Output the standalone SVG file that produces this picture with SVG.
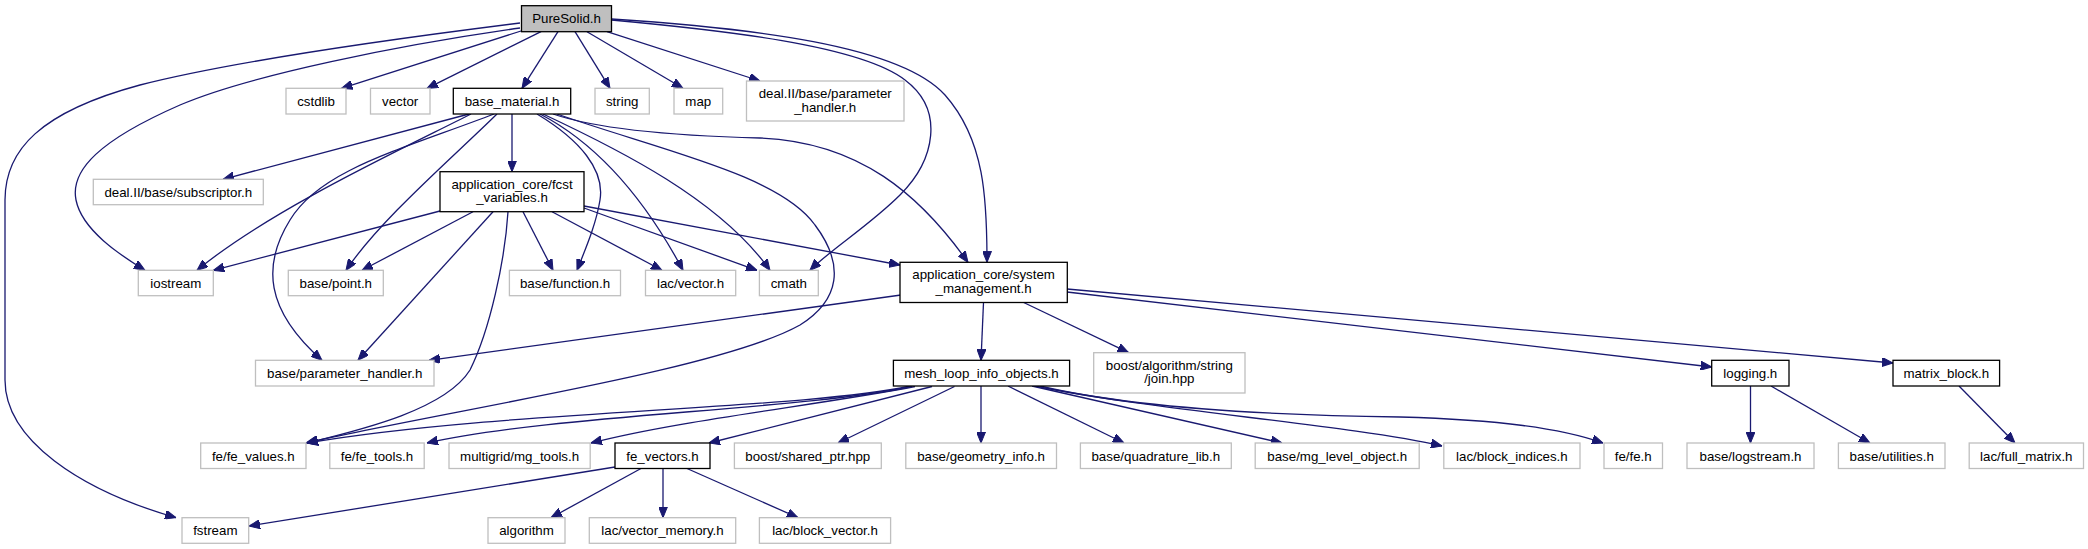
<svg xmlns="http://www.w3.org/2000/svg" width="2088" height="549" viewBox="0 0 2088 549">
<defs>
<style>
.n rect{fill:#ffffff;stroke:#bfbfbf;stroke-width:1.3}
.n.k rect{stroke:#000000}
.n.r rect{fill:#bfbfbf;stroke:#000000}
.n text{font-family:"Liberation Sans",Arial,sans-serif;font-size:13.3px;fill:#000000;text-anchor:middle}
#edges path{fill:none;stroke:#191970;stroke-width:1.3;marker-end:url(#ah)}
</style>
<marker id="ah" viewBox="0 0 11 9" refX="11" refY="4.5" markerWidth="11" markerHeight="9" markerUnits="userSpaceOnUse" orient="auto">
<path d="M0,0 L11,4.5 L0,9 z" fill="#191970" stroke="#191970" stroke-width="1"/>
</marker>
</defs>
<rect x="0" y="0" width="2088" height="549" fill="#ffffff"/>
<g id="edges">
<path d="M520,23 C400,38 230,62 140,85 C40,112 5,150 5,200 L5,380 C5,440 80,490 176,517.7"/>
<path d="M520,28 C400,45 250,75 180,105 C100,140 70,170 76,200 C82,230 120,255 145,270.3"/>
<path d="M521,31 L341.5,88.3"/>
<path d="M541,31.7 L427,88.3"/>
<path d="M558,31.7 L522,88.3"/>
<path d="M575,31.7 L610,88.3"/>
<path d="M587,31.7 L683,88.3"/>
<path d="M607,31.7 L760,81"/>
<path d="M611.5,20 C720,30 860,45 905,80 C945,110 935,160 900,195 C870,225 830,250 810,270.3"/>
<path d="M611.5,19 C750,28 900,45 945,95 C985,140 987,200 987,262.3"/>
<path d="M469,114 L223,179.3"/>
<path d="M471,114 C400,150 270,210 197,270.3"/>
<path d="M494,114 C400,150 320,170 290,220 C262,265 265,310 322,360.3"/>
<path d="M497,114 C450,160 380,220 346,270.3"/>
<path d="M512,114 L512,171.7"/>
<path d="M537,114 C580,140 605,170 600,200 C596,225 585,250 577,270.3"/>
<path d="M540,114 C590,140 640,190 683,270.3"/>
<path d="M543,114 C620,150 720,200 770,270.3"/>
<path d="M553,114 C600,130 680,136 760,138 C860,142 920,195 968,262.3"/>
<path d="M557,114 C660,150 780,175 815,225 C845,265 840,300 800,325 C720,370 450,410 306,443"/>
<path d="M440,211 L213.3,270.3"/>
<path d="M473,211.7 L362,270.3"/>
<path d="M493,211.7 L358,360.3"/>
<path d="M508,211.7 C505,260 490,330 470,370 C445,410 360,430 307,443"/>
<path d="M523,211.7 L553,270.3"/>
<path d="M552,211.7 L662,270.3"/>
<path d="M584,208 L757,270.3"/>
<path d="M584,206 L900,265"/>
<path d="M901,295 L429,360.3"/>
<path d="M983.5,302.5 L981,360.3"/>
<path d="M1023.7,302.5 L1128.6,352.7"/>
<path d="M1067,292 L1711.7,367"/>
<path d="M1067,289 L1893,363"/>
<path d="M910,386 C800,410 500,410 307,443"/>
<path d="M912,386.5 C800,410 550,415 427,443"/>
<path d="M915,386.5 C820,405 680,420 591,443"/>
<path d="M932,386.5 L709,443"/>
<path d="M954.5,386.5 L838,443"/>
<path d="M981,386 L981,443"/>
<path d="M1008,386 L1124,443"/>
<path d="M1032,386 L1282,443"/>
<path d="M1035,386 C1150,410 1350,425 1442,446"/>
<path d="M1040,386 C1120,405 1250,415 1400,417 C1500,420 1560,428 1603,443"/>
<path d="M615,467 L249,526"/>
<path d="M641,468.5 L551,517.7"/>
<path d="M663,468.5 L663,517.7"/>
<path d="M687,468.5 L798,517.7"/>
<path d="M1750.5,386 L1750.5,443"/>
<path d="M1771,386 L1870,443"/>
<path d="M1959,386 L2015,443"/>
</g>
<g id="n_puresolid" class="n r"><rect x="521.5" y="5.7" width="90" height="26"/><text x="566.5" y="23.4">PureSolid.h</text></g>
<g id="n_cstdlib" class="n"><rect x="286" y="88.3" width="60" height="25.7"/><text x="316" y="106">cstdlib</text></g>
<g id="n_vector" class="n"><rect x="370.5" y="88.3" width="59.5" height="25.7"/><text x="400.2" y="106">vector</text></g>
<g id="n_base_material" class="n k"><rect x="453.3" y="88.3" width="117.4" height="25.7"/><text x="512" y="106">base_material.h</text></g>
<g id="n_string" class="n"><rect x="595" y="88.3" width="54.3" height="25.7"/><text x="622.2" y="106">string</text></g>
<g id="n_map" class="n"><rect x="674" y="88.3" width="48.7" height="25.7"/><text x="698.3" y="106">map</text></g>
<g id="n_deal_param" class="n"><rect x="746.5" y="81" width="157.5" height="40"/><text x="825.2" y="97.5">deal.II/base/parameter</text><text x="825.2" y="111.5">_handler.h</text></g>
<g id="n_subscriptor" class="n"><rect x="93.3" y="179.3" width="170" height="25.4"/><text x="178.3" y="197">deal.II/base/subscriptor.h</text></g>
<g id="n_fcst" class="n k"><rect x="440" y="171.7" width="144" height="40"/><text x="512" y="188.5">application_core/fcst</text><text x="512" y="202">_variables.h</text></g>
<g id="n_iostream" class="n"><rect x="138.3" y="270.3" width="75" height="25.4"/><text x="175.8" y="288">iostream</text></g>
<g id="n_point" class="n"><rect x="288.3" y="270.3" width="95" height="25.4"/><text x="335.8" y="288">base/point.h</text></g>
<g id="n_function" class="n"><rect x="509.4" y="270.3" width="111.1" height="25.4"/><text x="565" y="288">base/function.h</text></g>
<g id="n_lacvector" class="n"><rect x="645.5" y="270.3" width="90.2" height="25.4"/><text x="690.6" y="288">lac/vector.h</text></g>
<g id="n_cmath" class="n"><rect x="759.4" y="270.3" width="58.9" height="25.4"/><text x="788.8" y="288">cmath</text></g>
<g id="n_sysmgmt" class="n k"><rect x="900" y="262.3" width="167.3" height="40.2"/><text x="983.6" y="279.3">application_core/system</text><text x="983.6" y="292.8">_management.h</text></g>
<g id="n_paramhandler" class="n"><rect x="255.5" y="360.3" width="178.5" height="25.7"/><text x="344.7" y="378">base/parameter_handler.h</text></g>
<g id="n_join" class="n"><rect x="1093.7" y="352.7" width="151.3" height="40.3"/><text x="1169.3" y="369.5">boost/algorithm/string</text><text x="1169.3" y="383">/join.hpp</text></g>
<g id="n_meshloop" class="n k"><rect x="893.4" y="360.3" width="176.2" height="25.7"/><text x="981.5" y="378">mesh_loop_info_objects.h</text></g>
<g id="n_logging" class="n k"><rect x="1711.7" y="360.3" width="77.3" height="25.7"/><text x="1750.3" y="378">logging.h</text></g>
<g id="n_matrixblock" class="n k"><rect x="1893" y="360.3" width="106.6" height="25.7"/><text x="1946.3" y="378">matrix_block.h</text></g>
<g id="n_fevalues" class="n"><rect x="200.7" y="443" width="105.3" height="25.5"/><text x="253.3" y="460.7">fe/fe_values.h</text></g>
<g id="n_fetools" class="n"><rect x="329.8" y="443" width="94.4" height="25.5"/><text x="377" y="460.7">fe/fe_tools.h</text></g>
<g id="n_mgtools" class="n"><rect x="449" y="443" width="141.2" height="25.5"/><text x="519.6" y="460.7">multigrid/mg_tools.h</text></g>
<g id="n_fevectors" class="n k"><rect x="615" y="443" width="95" height="25.5"/><text x="662.5" y="460.7">fe_vectors.h</text></g>
<g id="n_sharedptr" class="n"><rect x="734.4" y="443" width="146.9" height="25.5"/><text x="807.8" y="460.7">boost/shared_ptr.hpp</text></g>
<g id="n_geometry" class="n"><rect x="905.8" y="443" width="150.7" height="25.5"/><text x="981.1" y="460.7">base/geometry_info.h</text></g>
<g id="n_quadrature" class="n"><rect x="1080.4" y="443" width="150.9" height="25.5"/><text x="1155.8" y="460.7">base/quadrature_lib.h</text></g>
<g id="n_mglevel" class="n"><rect x="1255.2" y="443" width="164" height="25.5"/><text x="1337.2" y="460.7">base/mg_level_object.h</text></g>
<g id="n_blockindices" class="n"><rect x="1443.8" y="443" width="136.2" height="25.5"/><text x="1511.9" y="460.7">lac/block_indices.h</text></g>
<g id="n_fe" class="n"><rect x="1604" y="443" width="58.5" height="25.5"/><text x="1633.2" y="460.7">fe/fe.h</text></g>
<g id="n_logstream" class="n"><rect x="1687" y="443" width="127" height="25.5"/><text x="1750.5" y="460.7">base/logstream.h</text></g>
<g id="n_utilities" class="n"><rect x="1838.4" y="443" width="106.6" height="25.5"/><text x="1891.7" y="460.7">base/utilities.h</text></g>
<g id="n_fullmatrix" class="n"><rect x="1969.2" y="443" width="114.3" height="25.5"/><text x="2026.3" y="460.7">lac/full_matrix.h</text></g>
<g id="n_fstream" class="n"><rect x="182" y="517.7" width="66.7" height="25.6"/><text x="215.3" y="535.4">fstream</text></g>
<g id="n_algorithm" class="n"><rect x="488" y="517.7" width="77" height="25.6"/><text x="526.5" y="535.4">algorithm</text></g>
<g id="n_vectormemory" class="n"><rect x="589.3" y="517.7" width="146.4" height="25.6"/><text x="662.5" y="535.4">lac/vector_memory.h</text></g>
<g id="n_blockvector" class="n"><rect x="759.4" y="517.7" width="131.2" height="25.6"/><text x="825" y="535.4">lac/block_vector.h</text></g>
</svg>
